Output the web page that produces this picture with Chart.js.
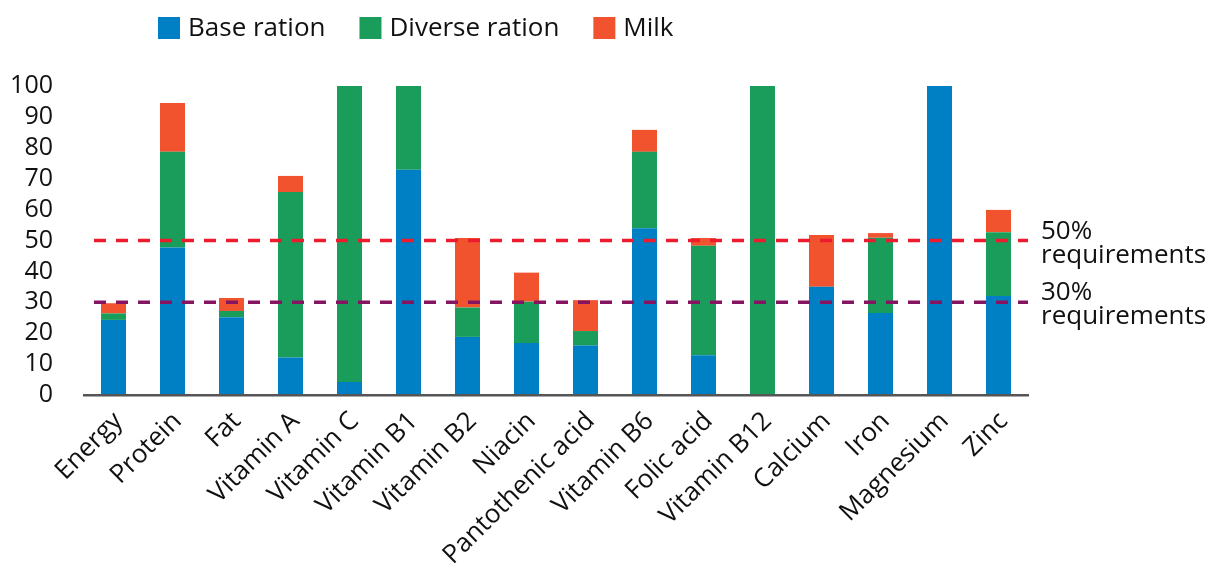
<!DOCTYPE html>
<html>
<head>
<meta charset="utf-8">
<script src="https://cdn.jsdelivr.net/npm/chart.js@4.4.0/dist/chart.umd.min.js"></script>
<style>
  html, body { margin: 0; padding: 0; background: #fff; }
  #wrap { width: 1211px; height: 565px; position: relative; }
</style>
</head>
<body>
<div id="wrap"><canvas id="nutrientChart"></canvas></div>
<script>
const nutrients = ["Energy", "Protein", "Fat", "Vitamin A", "Vitamin C", "Vitamin B1", "Vitamin B2",
  "Niacin", "Pantothenic acid", "Vitamin B6", "Folic acid", "Vitamin B12", "Calcium", "Iron",
  "Magnesium", "Zinc"];
const baseRation    = [24.3, 47.7, 25.2, 12.1, 4.2, 72.9, 18.8, 16.8, 16.0, 54.0, 12.9, 0, 35.0, 26.5, 100, 32.0];
const diverseRation = [2.1, 31.0, 2.0, 53.6, 95.8, 27.1, 9.5, 13.4, 4.7, 24.7, 35.4, 100, 0, 24.4, 0, 20.7];
const milk          = [3.3, 15.8, 4.2, 5.2, 0, 0, 22.5, 9.4, 10.0, 7.1, 2.5, 0, 16.8, 1.5, 0, 7.2];
const seriesNames = ["Base ration", "Diverse ration", "Milk"];
const yTickValues = [0, 10, 20, 30, 40, 50, 60, 70, 80, 90, 100];
const requirementLevels = [50, 30];
const requirementLabels = [["50%", "requirements"], ["30%", "requirements"]];

const FONT = "'Open Sans', 'Noto Sans', sans-serif";

// legend drawn by hand so it can sit left of centre
const topLegend = {
  id: "topLegend",
  afterDraw(chart) {
    const ctx = chart.ctx;
    ctx.save();
    ctx.font = "26px " + FONT;
    ctx.textBaseline = "middle";
    let x = 158;
    const y = 28;
    chart.data.datasets.forEach(ds => {
      ctx.fillStyle = ds.backgroundColor;
      ctx.fillRect(x, y - 11, 22, 22);
      ctx.fillStyle = "#111";
      ctx.fillText(ds.label, x + 30, y + 1);
      x += 30 + ctx.measureText(ds.label).width + 34;
    });
    ctx.restore();
  }
};

// dashed requirement lines with their captions on the right
const requirementLines = {
  id: "requirementLines",
  afterDatasetsDraw(chart) {
    const { ctx, chartArea, scales } = chart;
    const colors = ["#ec1c2e", "#861460"];
    ctx.save();
    requirementLevels.forEach((lvl, i) => {
      const y = scales.y.getPixelForValue(lvl);
      ctx.strokeStyle = colors[i];
      ctx.lineWidth = 3.5;
      ctx.setLineDash([12, 10]);
      ctx.lineDashOffset = 12;
      ctx.beginPath();
      ctx.moveTo(chartArea.left, y);
      ctx.lineTo(chartArea.right, y);
      ctx.stroke();
      ctx.setLineDash([]);
      ctx.fillStyle = "#111";
      ctx.font = "26px " + FONT;
      ctx.textBaseline = "alphabetic";
      ctx.fillText(requirementLabels[i][0], chartArea.right + 13, y - 2);
      ctx.fillText(requirementLabels[i][1], chartArea.right + 13, y + 22);
    });
    ctx.restore();
  }
};

const ctx = document.getElementById("nutrientChart").getContext("2d");
new Chart(ctx, {
  type: "bar",
  data: {
    labels: nutrients,
    datasets: [
      { label: seriesNames[0], data: baseRation, backgroundColor: "#0080c4" },
      { label: seriesNames[1], data: diverseRation, backgroundColor: "#1a9d5b" },
      { label: seriesNames[2], data: milk, backgroundColor: "#f0532d" }
    ]
  },
  options: {
    responsive: true,
    maintainAspectRatio: false,
    animation: false,
    datasets: { bar: { categoryPercentage: 1, barPercentage: 0.424 } },
    layout: { padding: { top: 86, right: 183, left: 0, bottom: 0 } },
    plugins: { legend: { display: false }, tooltip: { enabled: false } },
    scales: {
      x: {
        stacked: true,
        grid: { display: false },
        border: { color: "#555", width: 2.5, z: 1 },
        ticks: {
          color: "#111",
          font: { family: FONT, size: 26 },
          minRotation: 45,
          maxRotation: 45,
          autoSkip: false,
          labelOffset: 5,
          padding: 3
        },
        afterFit(scale) { scale.height = 170; }
      },
      y: {
        stacked: true,
        min: 0,
        max: 100,
        grid: { display: false },
        border: { display: false },
        afterBuildTicks(scale) {
          scale.ticks = yTickValues.map(v => ({ value: v }));
        },
        ticks: {
          autoSkip: false,
          color: "#111",
          font: { family: FONT, size: 25 },
          padding: 23
        },
        afterFit(scale) { scale.width = 84; }
      }
    }
  },
  plugins: [requirementLines, topLegend]
});
</script>
</body>
</html>
